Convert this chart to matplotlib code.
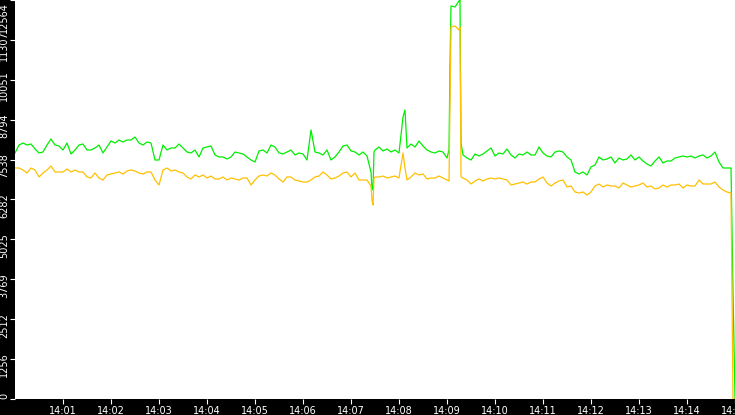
"""Two throughput traces, 14:00-14:15, dark frame style."""
import matplotlib

matplotlib.use("Agg")
import matplotlib.pyplot as plt  # noqa: E402
import matplotlib.transforms as mtransforms  # noqa: E402
import numpy as np  # noqa: E402

# seconds after 14:00:00, regular 5 s samples
grid_secs = np.arange(0, 901, 5)

green_vals = [
    7747, 7998, 8061, 7998, 8030, 7873, 7747, 7778, 7998, 8187,
    7998, 7967, 7841, 8061, 7715, 7841, 7998, 8030, 7841, 7841,
    7904, 7998, 7747, 7935, 8124, 8061, 8156, 8093, 8156, 8156,
    8250, 8061, 7998, 8093, 8061, 7526, 7526, 7998, 7841, 7904,
    7904, 8030, 7904, 7778, 7747, 7841, 7621, 7904, 7935, 7967,
    7684, 7621, 7621, 7558, 7621, 7778, 7747, 7715, 7621, 7526,
    7463, 7810, 7841, 7747, 7998, 7935, 7747, 7715, 7778, 7841,
    7684, 7747, 7715, 7526, 8471, 7778, 7747, 7684, 7841, 7526,
    7621, 7778, 7967, 7998, 7810, 7778, 7684, 7778, 7652, 7148,
    7841, 7935, 7810, 7873, 7778, 7841, 7747, 8880, 7904, 8030,
    7935, 8124, 7967, 7841, 7778, 7747, 7810, 7778, 7589, 12376,
    12344, 12533, 7684, 7589, 7526, 7715, 7652, 7715, 7810, 7904,
    7652, 7747, 7715, 7873, 7684, 7589, 7715, 7684, 7778, 7684,
    7684, 7935, 7747, 7652, 7621, 7778, 7810, 7778, 7621, 7526,
    7148, 7085, 7148, 7054, 7306, 7369, 7621, 7526, 7558, 7621,
    7432, 7589, 7526, 7558, 7684, 7526, 7621, 7495, 7400, 7337,
    7495, 7621, 7432, 7495, 7495, 7589, 7621, 7652, 7621, 7652,
    7589, 7652, 7684, 7589, 7652, 7778, 7463, 7274, 7274, 7274,
    0,
]

amber_vals = [
    7274, 7274, 7211, 7117, 7274, 7211, 6991, 7117, 7211, 7337,
    7148, 7148, 7148, 7243, 7148, 7211, 7148, 7148, 6991, 6959,
    7117, 6959, 6896, 7054, 7085, 7117, 7148, 7085, 7180, 7211,
    7180, 7117, 7085, 7148, 7148, 6896, 6739, 7211, 7274, 7180,
    7211, 7148, 7117, 6991, 6928, 7054, 6991, 7054, 6959, 7022,
    6928, 6928, 6991, 6896, 6959, 6928, 6896, 6959, 6959, 6739,
    6896, 7022, 7054, 7022, 7117, 7054, 6928, 6833, 6991, 6991,
    6896, 6865, 6833, 6833, 6896, 6991, 7022, 7148, 7054, 6928,
    6959, 7022, 7117, 7148, 6991, 7117, 6896, 6896, 6896, 6707,
    6991, 6991, 7022, 6959, 6991, 7022, 6959, 7747, 6896, 6991,
    7117, 7054, 7085, 6928, 6959, 6959, 7022, 6959, 6896, 11714,
    11746, 11620, 6959, 6896, 6770, 6865, 6928, 6865, 6928, 6959,
    6928, 6959, 6928, 6896, 6739, 6770, 6802, 6833, 6770, 6833,
    6833, 6928, 6991, 6802, 6707, 6802, 6865, 6896, 6676, 6707,
    6518, 6487, 6518, 6424, 6518, 6707, 6770, 6676, 6739, 6707,
    6707, 6644, 6802, 6739, 6676, 6707, 6739, 6802, 6676, 6707,
    6613, 6644, 6739, 6676, 6739, 6739, 6770, 6644, 6739, 6707,
    6707, 6896, 6770, 6770, 6770, 6833, 6676, 6581, 6518, 6487,
    0,
]

# extra samples around the sharp events (dip, spikes, final drop)
event_secs = [446.25, 447.5, 448.75, 487.5, 542.5, 543.75, 556.25, 557.5, 897.5]
green_event = [6644, 6581, 7778, 9101, 7841, 10518, 12564, 8061, 3432]
amber_event = [6267, 6109, 6959, 7274, 6865, 9416, 11714, 6991, 0]

y_ticks = [0, 1256, 2512, 3769, 5025, 6282, 7538, 8794, 10051, 11307, 12564]
x_ticks = [60 * m for m in range(1, 16)]
x_labels = ["14:%02d" % m for m in range(1, 16)]

secs = np.concatenate([grid_secs, event_secs])
order = np.argsort(secs, kind="stable")
secs = secs[order]
green = np.concatenate([green_vals, green_event])[order]
amber = np.concatenate([amber_vals, amber_event])[order]

W, H = 735, 415
fig = plt.figure(figsize=(W / 100, H / 100), dpi=100, facecolor="black")
ax = fig.add_axes([15 / W, 16 / H, 720 / W, 399 / H])
ax.set_facecolor("white")

ax.plot(secs, green, color="#00ee00", lw=0.9)
ax.plot(secs, amber, color="#ffc000", lw=0.9)

ax.set_xlim(0, 900)
ax.set_ylim(0, 12564)
for sp in ax.spines.values():
    sp.set_visible(False)

ax.set_xticks(x_ticks)
ax.set_xticklabels(x_labels)
ax.tick_params(axis="x", colors="white", length=3.6, width=0.8, pad=1.2,
               labelsize=7)
ax.set_yticks(y_ticks)
ax.set_yticklabels([])
ax.tick_params(axis="y", colors="white", length=3.6, width=0.8)

# y labels: rotated, hanging just below their tick, kept inside the frame
base = mtransforms.blended_transform_factory(ax.transAxes, ax.transData)
for i, v in enumerate(y_ticks):
    if i == 0:
        va, dy = "bottom", 0
    elif i == len(y_ticks) - 1:
        va, dy = "top", -2
    else:
        va, dy = "center", -6
    tr = base + mtransforms.ScaledTranslation(-6 / 100, dy / 100, fig.dpi_scale_trans)
    ax.text(0, v, str(v), transform=tr, rotation=90, ha="right", va=va,
            color="white", fontsize=7, clip_on=False)

fig.savefig("out.png", dpi=100, facecolor="black")
plt.close(fig)
